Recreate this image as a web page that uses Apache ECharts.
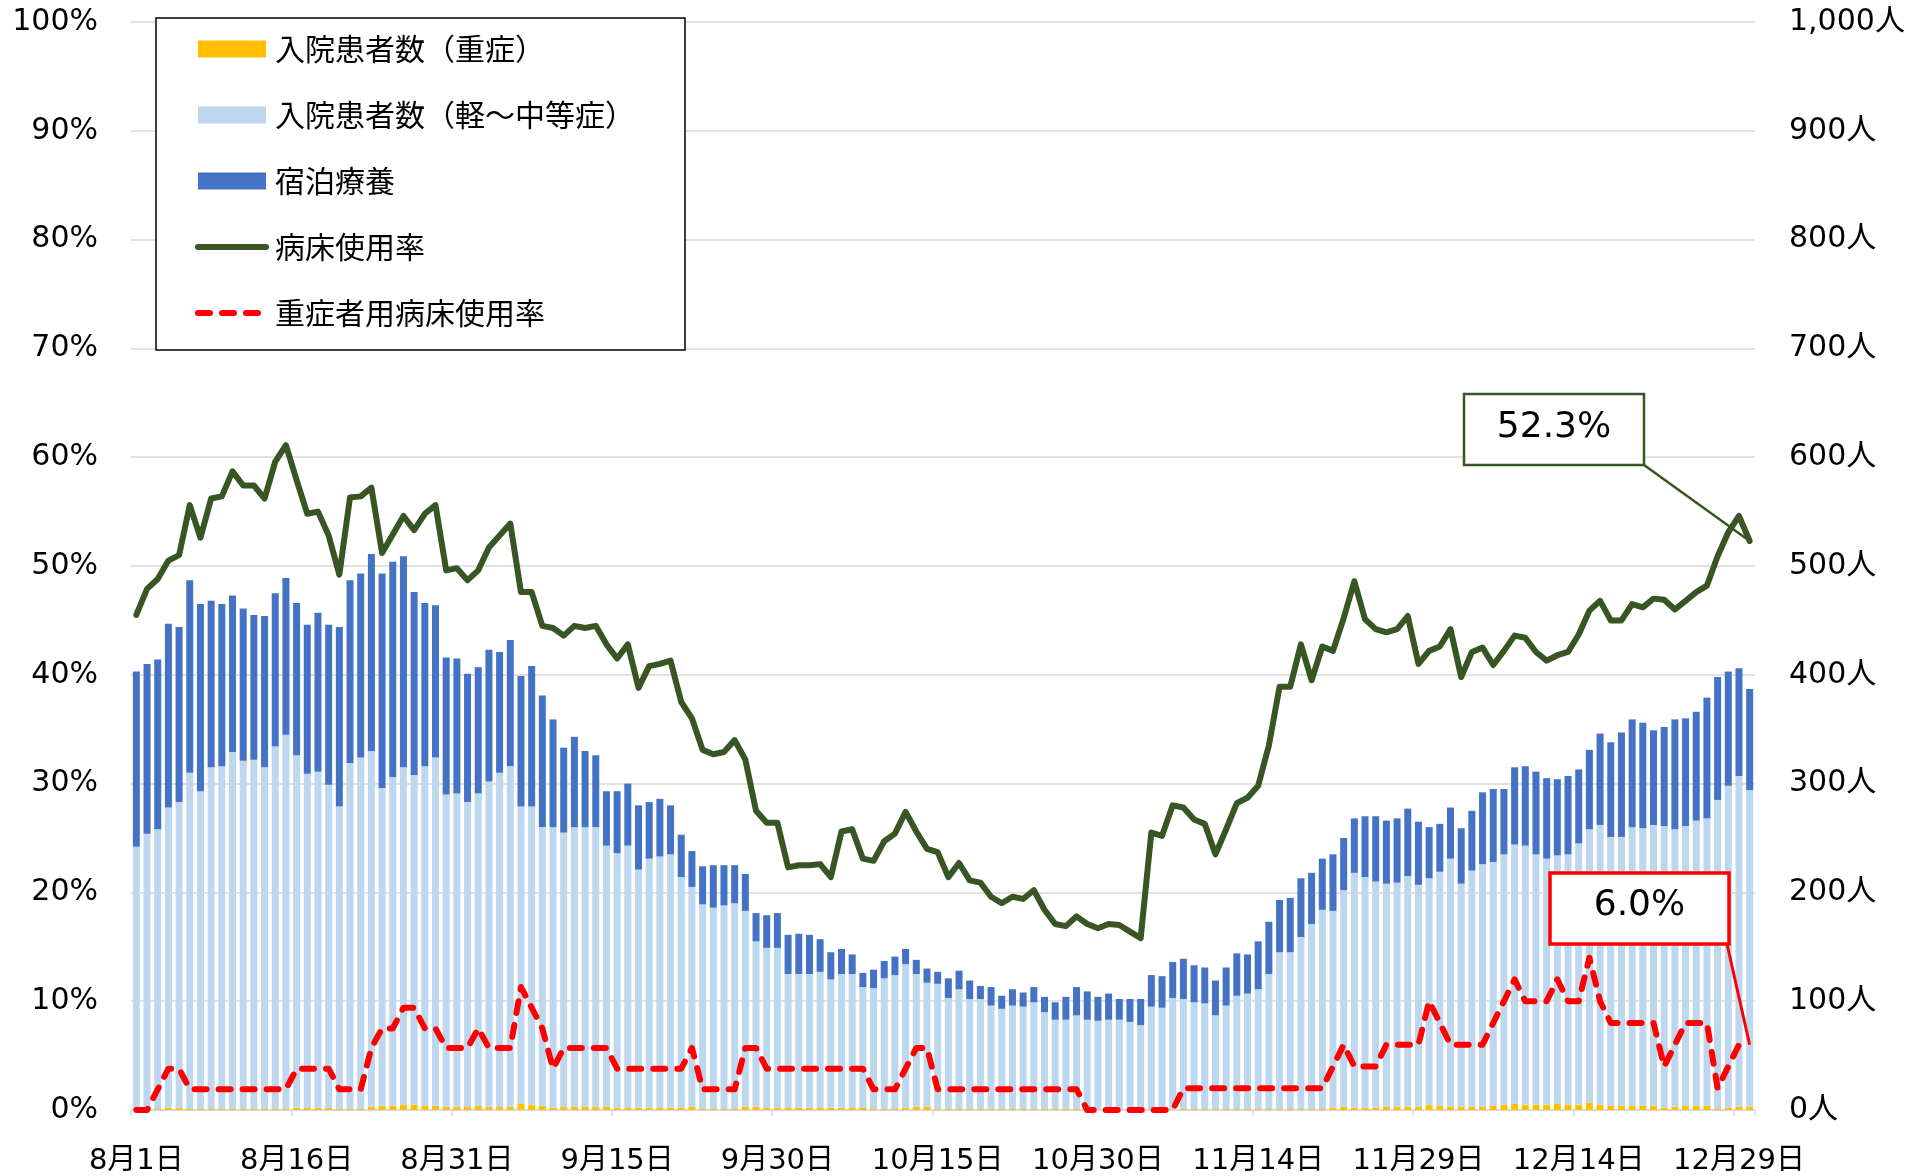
<!DOCTYPE html>
<html>
<head>
<meta charset="utf-8">
<script src="https://cdn.jsdelivr.net/npm/echarts@6/dist/echarts.min.js"></script>
<style>
html,body{margin:0;padding:0;background:#fff;}
#chart{width:1915px;height:1176px;}
</style>
</head>
<body>
<div id="chart"></div>
<script>
// ---- categories (8/1 .. 12/30) ----
const monthDays = [['8', 31], ['9', 30], ['10', 31], ['11', 30], ['12', 30]];
const categories = [];
for (const [m, n] of monthDays) { for (let d = 1; d <= n; d++) categories.push(m + '月' + d + '日'); }

// ---- series values ----
// 入院患者数（重症） [人]
const severe = [
  0,0,1,2,2,1,1,1,1,1, 1,1,1,1,1,2,2,2,2,1, 1,1,3,4,4,5,5,4,4,3,
  3,3,4,3,3,3,6,5,4,2, 3,3,3,3,3,2,2,2,2,2, 2,2,3,1,1,1,1,3,3,2,
  2,2,2,2,2,2,2,2,2,1, 1,1,2,3,3,1,1,1,1,1, 1,1,1,1,1,1,1,1,1,0,
  0,0,0,0,0,0,0,0,1,1, 1,1,1,1,1,1,1,1,1,1, 1,1,2,3,2,2,2,3,3,3,
  3,5,4,3,3,3,3,4,5,6, 5,5,5,6,5,5,7,5,4,4, 4,4,4,2,3,4,4,4,1,2,
  3,3
];
// 入院患者数（軽～中等症） [人]
const mild = [
  242,254,257,276,281,309,292,314,315,328, 320,321,314,333,344,324,307,309,297,278,
  318,323,327,292,302,310,303,312,320,287, 288,280,287,299,307,313,273,274,256,258,
  252,257,257,257,240,234,241,219,229,231, 233,212,202,188,185,187,189,180,152,147,
  147,123,123,123,125,118,123,123,111,111, 120,123,132,122,114,115,102,110,101,101,
  95,92,95,94,98,89,82,82,86,83, 82,83,83,81,78,95,94,103,101,98,
  97,86,95,104,106,110,124,144,144,158, 170,183,181,199,216,212,208,205,206,212,
  204,208,215,228,205,217,223,224,230,238, 238,230,226,228,230,240,251,257,247,247,
  256,255,258,259,255,257,262,264,284,296, 304,291
];
// 宿泊療養 [人]
const lodging = [
  161,156,156,169,161,177,172,153,149,144, 140,133,139,141,144,140,137,146,147,165,
  168,169,181,197,198,194,168,150,140,126, 124,118,116,121,111,116,120,129,121,99,
  78,83,70,66,50,57,57,59,52,53, 45,39,33,35,39,37,35,34,26,30,
  32,36,37,36,30,25,23,18,13,17, 16,17,14,13,13,11,18,17,17,12,
  17,12,15,13,14,14,16,21,26,26, 22,24,19,21,24,29,29,33,37,34,
  33,32,35,39,36,44,48,48,50,54, 47,47,52,48,50,56,60,58,59,62,
  58,47,44,47,51,55,66,67,60,71, 73,76,74,70,72,68,73,84,87,96,
  99,97,87,91,101,99,100,111,113,105, 99,93
];
// 病床使用率 [%]
const bedRate = [
  45.5,47.9,48.8,50.5,51.0,55.6,52.6,56.2,56.4,58.7, 57.4,57.4,56.2,59.6,61.1,57.9,54.8,55.0,52.8,49.2,
  56.3,56.4,57.2,51.2,52.9,54.6,53.3,54.8,55.6,49.6, 49.8,48.7,49.6,51.7,52.8,53.9,47.6,47.6,44.5,44.3,
  43.6,44.5,44.3,44.5,42.8,41.5,42.8,38.8,40.8,41.0, 41.3,37.5,36.0,33.1,32.7,32.9,34.0,32.2,27.5,26.4,
  26.4,22.3,22.5,22.5,22.6,21.4,25.6,25.8,23.1,22.9, 24.7,25.4,27.4,25.6,24.0,23.7,21.4,22.7,21.1,20.9,
  19.6,19.0,19.6,19.4,20.2,18.4,17.1,16.9,17.8,17.1, 16.7,17.1,17.0,16.4,15.8,25.5,25.2,28.0,27.8,26.7,
  26.3,23.5,25.8,28.2,28.7,29.8,33.5,38.9,38.9,42.8, 39.5,42.6,42.2,45.2,48.6,45.1,44.2,43.9,44.2,45.4,
  41.0,42.2,42.6,44.2,39.8,42.1,42.5,40.9,42.2,43.6, 43.4,42.1,41.3,41.8,42.1,43.7,45.9,46.8,45.0,45.0,
  46.5,46.2,47.0,46.9,46.0,46.8,47.6,48.2,50.9,53.1, 54.6,52.3
];
// 重症者用病床使用率 [%]
const severeBedRate = [
  0,0,1.9,3.8,3.8,1.9,1.9,1.9,1.9,1.9, 1.9,1.9,1.9,1.9,1.9,3.8,3.8,3.8,3.8,1.9,
  1.9,1.9,5.7,7.5,7.5,9.4,9.4,7.5,7.5,5.7, 5.7,5.7,7.5,5.7,5.7,5.7,11.3,9.4,7.5,3.8,
  5.7,5.7,5.7,5.7,5.7,3.8,3.8,3.8,3.8,3.8, 3.8,3.8,5.7,1.9,1.9,1.9,1.9,5.7,5.7,3.8,
  3.8,3.8,3.8,3.8,3.8,3.8,3.8,3.8,3.8,1.9, 1.9,1.9,3.8,5.7,5.7,1.9,1.9,1.9,1.9,1.9,
  1.9,1.9,1.9,1.9,1.9,1.9,1.9,1.9,1.9,0, 0,0,0,0,0,0,0,0,2.0,2.0,
  2.0,2.0,2.0,2.0,2.0,2.0,2.0,2.0,2.0,2.0, 2.0,2.0,4.0,6.0,4.0,4.0,4.0,6.0,6.0,6.0,
  6.0,10.0,8.0,6.0,6.0,6.0,6.0,8.0,10.0,12.0, 10.0,10.0,10.0,12.0,10.0,10.0,14.0,10.0,8.0,8.0,
  8.0,8.0,8.0,4.0,6.0,8.0,8.0,8.0,2.0,4.0, 6.0,6.0
];

const seriesNames = ['入院患者数（重症）', '入院患者数（軽～中等症）', '宿泊療養', '病床使用率', '重症者用病床使用率'];

function withComma(v) { return String(v).replace(/\B(?=(\d{3})+(?!\d))/g, ','); }

const numFont = "'DejaVu Sans', 'Noto Sans CJK JP', sans-serif";
const cjkFont = "'Noto Sans CJK JP', 'DejaVu Sans', sans-serif";
const GREEN = '#375623', RED = '#FF0000';
const LINE_W = 6;
const DASH = [12, 12];

const chart = echarts.init(document.getElementById('chart'), null, { renderer: 'canvas' });

chart.setOption({
  animation: false,
  backgroundColor: '#fff',
  grid: { left: 131, right: 160, top: 22, bottom: 63, containLabel: false },
  legend: {
    left: 156, top: 18,
    orient: 'vertical',
    padding: [14, 50, 20, 39],
    itemGap: 32,
    itemWidth: 68, itemHeight: 17,
    borderColor: '#000', borderWidth: 1.5,
    backgroundColor: '#fff',
    selectedMode: false,
    textStyle: { fontSize: 30, fontFamily: cjkFont, color: '#000', lineHeight: 34, padding: [0, 0, 0, 4] },
    data: [
      { name: seriesNames[0], icon: 'rect' },
      { name: seriesNames[1], icon: 'rect' },
      { name: seriesNames[2], icon: 'rect' },
      { name: seriesNames[3], itemStyle: { opacity: 0 },
        lineStyle: { width: LINE_W, color: GREEN, cap: 'round', type: 'solid' } },
      { name: seriesNames[4], itemStyle: { opacity: 0 },
        lineStyle: { width: LINE_W, color: RED, cap: 'round', type: DASH } }
    ]
  },
  xAxis: {
    type: 'category',
    data: categories,
    boundaryGap: true,
    axisLine: { show: true, lineStyle: { color: '#d9d9d9', width: 1.5 } },
    axisTick: { show: true, interval: 14, length: 6, lineStyle: { color: '#d9d9d9', width: 1.5 } },
    axisLabel: { interval: 14, fontSize: 29, fontFamily: numFont, color: '#000', margin: 37 },
    splitLine: { show: false }
  },
  yAxis: [
    {
      type: 'value', min: 0, max: 100, interval: 10, position: 'left',
      axisLine: { show: false }, axisTick: { show: false },
      axisLabel: { formatter: '{value}%', fontSize: 30, fontFamily: numFont, color: '#000', margin: 33 },
      splitLine: { show: true, lineStyle: { color: '#d9d9d9', width: 1.5 } }
    },
    {
      type: 'value', min: 0, max: 1000, interval: 100, position: 'right',
      axisLine: { show: false }, axisTick: { show: false },
      axisLabel: { formatter: v => withComma(v) + '人', fontSize: 30, fontFamily: numFont, color: '#000', margin: 34 },
      splitLine: { show: false }
    }
  ],
  series: [
    { name: seriesNames[0], type: 'bar', stack: 'people', yAxisIndex: 1, data: severe, barWidth: 7,
      itemStyle: { color: '#FFC000' }, z: 2 },
    { name: seriesNames[1], type: 'bar', stack: 'people', yAxisIndex: 1, data: mild, barWidth: 7,
      itemStyle: { color: '#BDD7EE' }, z: 2 },
    { name: seriesNames[2], type: 'bar', stack: 'people', yAxisIndex: 1, data: lodging, barWidth: 7,
      itemStyle: { color: '#4472C4' }, z: 2 },
    { name: seriesNames[3], type: 'line', yAxisIndex: 0, data: bedRate, symbol: 'none',
      lineStyle: { color: GREEN, width: LINE_W, cap: 'round', join: 'round' },
      itemStyle: { color: GREEN }, z: 5 },
    { name: seriesNames[4], type: 'line', yAxisIndex: 0, data: severeBedRate, symbol: 'none',
      lineStyle: { color: RED, width: LINE_W, type: DASH, cap: 'round', join: 'round' },
      itemStyle: { color: RED }, z: 6 }
  ]
});

// ---- callouts for the last values ----
const last = categories.length - 1;
const pGreen = chart.convertToPixel({ xAxisIndex: 0, yAxisIndex: 0 }, [last, bedRate[last]]);
const pRed = chart.convertToPixel({ xAxisIndex: 0, yAxisIndex: 0 }, [last, severeBedRate[last]]);

const box1 = { x: 1464, y: 394, w: 180, h: 71 };
const box2 = { x: 1550, y: 873, w: 179, h: 71 };

chart.setOption({
  graphic: [
    { type: 'line', z: 100, shape: { x1: box1.x + box1.w, y1: box1.y + box1.h, x2: pGreen[0], y2: pGreen[1] },
      style: { stroke: GREEN, lineWidth: 2.5 } },
    { type: 'rect', z: 101, shape: { x: box1.x, y: box1.y, width: box1.w, height: box1.h },
      style: { fill: '#fff', stroke: GREEN, lineWidth: 2.5 } },
    { type: 'text', z: 102, x: box1.x + box1.w / 2, y: box1.y + box1.h / 2 - 2,
      style: { text: bedRate[last].toFixed(1) + '%', fill: '#000', font: "36px 'DejaVu Sans'", textAlign: 'center', textVerticalAlign: 'middle' } },
    { type: 'line', z: 100, shape: { x1: box2.x + box2.w - 2, y1: box2.y + box2.h, x2: pRed[0], y2: pRed[1] },
      style: { stroke: RED, lineWidth: 3 } },
    { type: 'rect', z: 101, shape: { x: box2.x, y: box2.y, width: box2.w, height: box2.h },
      style: { fill: '#fff', stroke: RED, lineWidth: 3.5 } },
    { type: 'text', z: 102, x: box2.x + box2.w / 2, y: box2.y + box2.h / 2 - 3,
      style: { text: severeBedRate[last].toFixed(1) + '%', fill: '#000', font: "36px 'DejaVu Sans'", textAlign: 'center', textVerticalAlign: 'middle' } }
  ]
});
</script>
</body>
</html>
